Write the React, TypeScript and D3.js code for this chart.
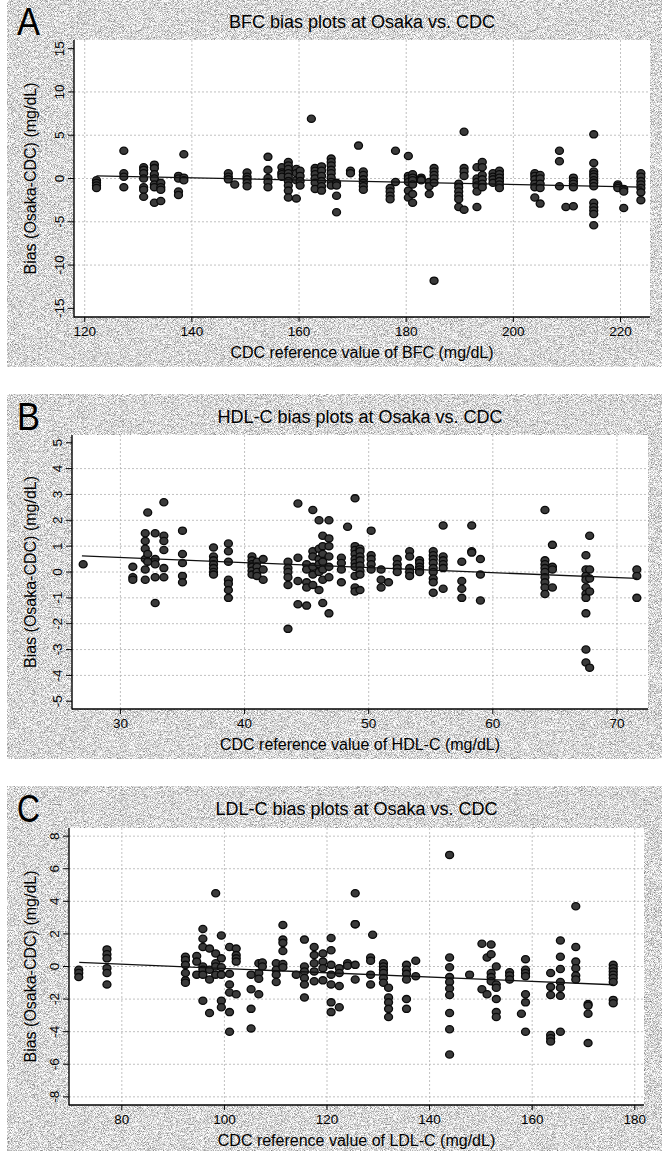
import React from "react";
import * as d3 from "d3";

// ---------- Panel A: BFC ----------
const bfcRef = [122.2, 127.3, 131, 133, 134.2, 137.5, 138.5, 146.8, 148, 150.3, 154.2, 156.8, 158, 159.5, 160.2, 162.3, 163, 164.2, 166, 167, 169.6, 171.1, 172, 177, 178, 180.4, 181.2, 182.8, 184.3, 185.2, 189.8, 190.8, 193.2, 194.2, 196.2, 197.4, 204, 205, 208.6, 209.8, 211.2, 215, 219.5, 220.6, 223.8];
const bfcBias = [
  [-0.2, -0.5, -0.8, -1.1],
  [3.2, 0.6, 0.2, -1.0],
  [1.3, 1.0, 0.6, 0.0, -1.0, -1.3, -2.1],
  [1.6, 1.2, 0.5, 0.0, -0.7, -1.0, -2.8],
  [-0.5, -1.0, -1.3, -2.6],
  [0.3, 0.0, -1.5, -1.9],
  [2.8, 0.1, -0.2],
  [0.6, 0.2, -0.1],
  [-0.7],
  [0.7, 0.2, -0.1, -0.5, -0.9],
  [2.5, 1.0, 0.05, -0.4, -1.0],
  [1.3, 0.7, 0.5, 0.2],
  [1.9, 1.5, 1.1, 0.6, 0.2, -0.3, -0.8, -1.4, -2.2],
  [1.1, 0.6, -0.2, -2.3],
  [0.9, 0.3, -0.3, -0.8],
  [6.9],
  [1.2, 0.9, 0.5, 0.0, -0.5, -1.2],
  [1.4, 0.9, 0.3, -0.3, -0.9, -1.4],
  [2.3, 1.9, 1.5, 1.0, 0.6, 0.1, -0.4, -0.8],
  [-0.5, -0.8, -2.0, -3.9],
  [0.9, 0.6],
  [3.8],
  [0.8, 0.4, -0.1, -0.5, -0.9, -1.3],
  [-1.1, -1.5, -2.0, -2.4],
  [3.2, -0.4],
  [2.6, 0.3, 0.0, -0.4, -1.4, -2.2],
  [0.5, 0.1, -0.2, -0.7, -1.8, -2.8],
  [0.1, -0.1, -0.2],
  [-0.4, -0.9, -1.8],
  [1.2, 0.8, 0.4, 0.0, -0.5, -11.8],
  [-0.6, -1.0, -1.5, -2.0, -2.4, -3.3],
  [5.4, 1.2, 0.8, 0.3, -3.6],
  [1.3, 0.0, -0.4, -0.8, -1.5, -3.3],
  [1.9, 1.3, 0.4, -0.1, -0.6, -1.0],
  [0.6, 0.2, -0.1, -0.5],
  [0.9, 0.5, 0.1, -0.3, -0.7, -1.1],
  [0.6, 0.3, -0.1, -0.6, -1.0, -2.2],
  [0.4, 0.0, -0.6, -1.1, -2.9],
  [3.2, 2.0, -0.9],
  [-3.3],
  [0.1, -0.3, -0.6, -1.0, -3.2],
  [5.1, 1.8, 0.8, 0.5, 0.2, -0.2, -0.5, -0.9, -2.8, -3.3, -3.7, -4.1, -5.4],
  [-0.7, -0.9, -1.1],
  [-1.2, -1.5, -3.4],
  [0.6, 0.2, -0.3, -0.7, -1.1, -1.6, -2.5],
];
const bfcFit = [[122.2, 0.3], [224, -1.0]];
const bfcXTicks = [120, 140, 160, 180, 200, 220];
const bfcYTicks = [-15, -10, -5, 0, 5, 10, 15];

// ---------- Panel B: HDL-C ----------
const hdlRef = [27, 31, 32, 32.2, 32.8, 33.5, 35, 37.5, 38.7, 40.6, 41, 41.5, 43.5, 44.3, 45, 45.5, 46, 46.3, 46.8, 47.8, 48.3, 48.9, 49.3, 50.2, 51, 51.6, 52.3, 53.3, 54.1, 55.2, 56, 57.5, 58.3, 59, 64.2, 64.8, 67.5, 67.8, 71.6];
const hdlBias = [
  [0.3],
  [0.2, -0.2, -0.3],
  [1.5, 1.2, 0.9, 0.5, 0.1, -0.3],
  [2.3, 0.7, 0.4],
  [1.5, 0.5, 0.3, -0.2, -1.2],
  [2.7, 1.4, 1.2, 0.85, 0.15, -0.2],
  [1.6, 0.7, 0.35, -0.15, -0.4],
  [0.95, 0.6, 0.45, 0.3, 0.15, 0.0, -0.1],
  [1.1, 0.8, 0.4, -0.3, -0.45, -0.7, -1.0],
  [0.6, 0.45, 0.3, 0.2, 0.05, -0.1],
  [0.4, 0.2, 0.0, -0.15],
  [0.5, 0.1, -0.3],
  [0.4, 0.15, 0.0, -0.2, -0.5, -2.2],
  [2.65, 0.55, -0.35, -1.25],
  [0.3, 0.1, -0.4, -0.6, -1.3],
  [2.4, 0.8, 0.6, 0.2, -0.1, -0.5],
  [2.0, 0.9, 0.5, 0.3, 0.0, -0.7],
  [1.4, 1.0, 0.7, 0.4, 0.1, -0.3, -1.2],
  [2.0, 1.3, 1.0, 0.6, 0.2, -0.2, -1.6],
  [0.55, 0.35, 0.1, -0.4],
  [1.75],
  [2.85, 1.0, 0.85, 0.7, 0.5, 0.35, 0.2, -0.15, -0.6, -0.75],
  [0.9, 0.8, 0.6, 0.45, 0.25, 0.05, -0.1, -0.7],
  [1.6, 0.65, 0.5, 0.3, 0.1],
  [0.1, -0.3, -0.6],
  [-0.4],
  [0.5, 0.3, 0.15, 0.0],
  [0.8, 0.6, 0.15, 0.0, -0.15],
  [0.45, 0.35, 0.2, 0.1, 0.0],
  [0.8, 0.65, 0.5, 0.35, 0.15, 0.0, -0.25, -0.4, -0.8],
  [1.8, 0.6, 0.45, 0.3, 0.15, -0.65],
  [0.4, -0.35, -0.65, -1.0],
  [1.8, 0.8, 0.75],
  [0.5, -0.1, -1.1],
  [2.4, 0.45, 0.3, 0.15, 0.0, -0.2, -0.4, -0.6, -0.85],
  [1.05, 0.2, 0.1, -0.6],
  [0.65, 0.1, -0.15, -0.3, -0.6, -0.85, -1.0, -1.6, -3.0, -3.5],
  [1.4, 0.1, -0.25, -0.75, -3.7],
  [0.1, -0.15, -1.0],
];
const hdlFit = [[26.9, 0.62], [71.6, -0.25]];
const hdlXTicks = [30, 40, 50, 60, 70];
const hdlYTicks = [-5, -4, -3, -2, -1, 0, 1, 2, 3, 4, 5];

// ---------- Panel C: LDL-C ----------
const ldlRef = [71.6, 77.1, 92.4, 94.6, 95.8, 97.1, 98.3, 99.4, 101, 102.3, 105.2, 106.7, 107.4, 110.1, 111.4, 114, 115.6, 117.5, 119.2, 120.8, 122.4, 124, 125.5, 128.5, 128.9, 131, 132, 135.5, 137.3, 143.9, 147.8, 150.2, 151.2, 152, 153, 155.6, 157.9, 158.7, 163.6, 165.5, 168.5, 170.9, 175.8];
const ldlBias = [
  [-0.2, -0.4, -0.65],
  [1.05, 0.75, 0.5, -0.1, -0.4, -1.1],
  [0.6, 0.4, 0.1, -0.4, -0.85, -1.0],
  [0.65, 0.3, -0.5],
  [2.3, 1.7, 1.2, 0.0, -0.2, -0.5, -2.1],
  [1.1, -0.2, -0.8, -2.85],
  [4.5, 0.8, 0.2, 0.0, -0.5],
  [1.9, 0.5, -0.05, -0.5, -2.1, -2.5],
  [1.2, -0.45, -1.1, -1.6, -2.8, -4.0],
  [1.1, 0.7, 0.5, 0.3, -1.7],
  [-0.5, -1.4, -2.6, -3.8],
  [0.2, -0.4, -0.75, -1.7],
  [0.25, 0.0],
  [0.2, -0.2, -0.5, -0.95],
  [2.55, 1.65, 1.45, 0.95, 0.15, -0.05],
  [-0.5],
  [1.65, 0.0, -0.3, -0.7, -1.1, -1.9],
  [1.2, 0.7, 0.2, -0.3, -0.9],
  [0.8, 0.3, -0.1, -0.85],
  [1.75, 1.0, 0.1, -0.5, -1.1, -2.2, -2.8],
  [-0.1, -0.4, -1.2, -2.5],
  [0.2, 0.05],
  [4.5, 2.6, 2.6, 0.1, -0.8],
  [0.55, 0.35, -0.5, -1.1],
  [1.95],
  [0.2, 0.0, -0.2, -0.4, -0.7, -1.0],
  [-1.3, -1.9, -2.2, -2.6, -3.1],
  [0.1, -0.2, -0.45, -0.8, -2.0, -2.6],
  [0.35, -0.6],
  [6.85, 0.55, -0.05, -0.65, -0.95, -1.35, -1.75, -2.85, -3.85, -5.4],
  [-0.5],
  [1.4, -1.4],
  [0.55, -1.7],
  [1.35, 0.75, -0.4, -0.65, -0.9],
  [0.0, -1.1, -1.3, -2.0, -2.8, -3.1],
  [-0.35, -0.55, -0.8],
  [-2.9],
  [0.45, -0.2, -0.4, -0.6, -1.7, -2.2, -4.0],
  [-0.4, -1.25, -1.75, -4.2, -4.4, -4.6],
  [1.6, 0.6, -0.15, -0.95, -1.3, -1.8, -4.0],
  [3.7, 1.2, 0.3, -0.1, -0.55, -0.8],
  [-2.3, -2.4, -2.9, -4.7],
  [0.1, -0.1, -0.3, -0.5, -0.7, -0.95, -2.05, -2.25],
];
const ldlFit = [[71.7, 0.25], [175.8, -1.12]];
const ldlXTicks = [80, 100, 120, 140, 160, 180];
const ldlYTicks = [-8, -6, -4, -2, 0, 2, 4, 6, 8];

const FONT = "'Liberation Sans', Arial, Helvetica, sans-serif";

type PanelCfg = {
  letter: string; title: string; xLabel: string;
  ref: number[]; bias: number[][]; fit: number[][];
  xTicks: number[]; yTicks: number[];
  xDomain: [number, number]; yDomain: [number, number];
  top: number; bottom: number; plotTop: number; plotBottom: number; left: number; right: number;
  titleY: number; edgeGrid: boolean;
};

function Panel({ p }: { p: PanelCfg }) {
  const x = d3.scaleLinear().domain(p.xDomain).range([p.left, p.right]);
  const y = d3.scaleLinear().domain(p.yDomain).range([p.plotBottom, p.plotTop]);
  const pts: [number, number][] = p.ref.flatMap((r, i) => p.bias[i].map((b) => [r, b] as [number, number]));
  const line = d3.line<number[]>().x((d) => x(d[0])).y((d) => y(d[1]));
  const cx = (p.left + p.right) / 2;
  const cy = (p.plotTop + p.plotBottom) / 2;
  const gridY = p.edgeGrid ? p.yTicks : p.yTicks.slice(1, -1);
  return (
    <g>
      <rect x={7} y={p.top} width={655} height={p.bottom - p.top} filter="url(#grain)" fill="#d6d6d6" />
      <rect x={p.left} y={p.plotTop} width={p.right - p.left} height={p.plotBottom - p.plotTop} fill="#fff" />
      {p.xTicks.map((t) => (
        <line key={"gx" + t} x1={x(t)} x2={x(t)} y1={p.plotTop} y2={p.plotBottom} stroke="#b0b0b0" strokeWidth={0.8} strokeDasharray="2,2" />
      ))}
      {gridY.map((t) => (
        <line key={"gy" + t} x1={p.left} x2={p.right} y1={y(t)} y2={y(t)} stroke="#b0b0b0" strokeWidth={0.8} strokeDasharray="2,2" />
      ))}
      {pts.map((d, i) => (
        <ellipse key={i} cx={x(d[0])} cy={y(d[1])} rx={4} ry={3.6} fill="#3a3a3a" stroke="#0a0a0a" strokeWidth={1.3} />
      ))}
      <path d={line(p.fit) || ""} stroke="#111" strokeWidth={1.3} fill="none" />
      <line x1={p.left} x2={p.left} y1={p.plotTop} y2={p.plotBottom + 0.5} stroke="#000" strokeWidth={1.4} />
      <line x1={p.left} x2={p.right} y1={p.plotBottom} y2={p.plotBottom} stroke="#000" strokeWidth={1.4} />
      {p.yTicks.map((t) => (
        <g key={"ty" + t}>
          <line x1={p.left - 6} x2={p.left} y1={y(t)} y2={y(t)} stroke="#000" strokeWidth={1} />
          <text transform={`translate(${p.left - 10},${y(t)}) rotate(-90)`} textAnchor="middle" fontSize={13.5} fill="#000">{t}</text>
        </g>
      ))}
      {p.xTicks.map((t) => (
        <g key={"tx" + t}>
          <line x1={x(t)} x2={x(t)} y1={p.plotBottom} y2={p.plotBottom + 5} stroke="#000" strokeWidth={1} />
          <text x={x(t)} y={p.plotBottom + 19} textAnchor="middle" fontSize={13.5} fill="#000">{t}</text>
        </g>
      ))}
      <text x={cx} y={p.plotBottom + 41} textAnchor="middle" fontSize={16} fill="#000">{p.xLabel}</text>
      <text transform={`translate(36,${cy}) rotate(-90)`} textAnchor="middle" fontSize={16} fill="#000">Bias (Osaka-CDC) (mg/dL)</text>
      <text x={cx} y={p.titleY} textAnchor="middle" fontSize={18} fill="#000">{p.title}</text>
      <text x={17} y={p.titleY + 7} fontSize={38} fill="#000" textLength={23} lengthAdjust="spacingAndGlyphs">{p.letter}</text>
    </g>
  );
}

export default function App() {
  const panels: PanelCfg[] = [
    {
      letter: "A", title: "BFC bias plots at Osaka vs. CDC", xLabel: "CDC reference value of BFC (mg/dL)",
      ref: bfcRef, bias: bfcBias, fit: bfcFit, xTicks: bfcXTicks, yTicks: bfcYTicks,
      xDomain: [118.0, 225.5], yDomain: [-16, 16],
      top: 0, bottom: 367, plotTop: 40, plotBottom: 317, left: 74, right: 650, titleY: 28, edgeGrid: false,
    },
    {
      letter: "B", title: "HDL-C bias plots at Osaka vs. CDC", xLabel: "CDC reference value of HDL-C (mg/dL)",
      ref: hdlRef, bias: hdlBias, fit: hdlFit, xTicks: hdlXTicks, yTicks: hdlYTicks,
      xDomain: [26.1, 72.5], yDomain: [-5.3, 5.3],
      top: 394, bottom: 759, plotTop: 435, plotBottom: 709, left: 72, right: 648, titleY: 423, edgeGrid: false,
    },
    {
      letter: "C", title: "LDL-C bias plots at Osaka vs. CDC", xLabel: "CDC reference value of LDL-C (mg/dL)",
      ref: ldlRef, bias: ldlBias, fit: ldlFit, xTicks: ldlXTicks, yTicks: ldlYTicks,
      xDomain: [69.7, 181.8], yDomain: [-8.5, 8.5],
      top: 786, bottom: 1151, plotTop: 828, plotBottom: 1105, left: 69, right: 644, titleY: 815, edgeGrid: true,
    },
  ];
  return (
    <svg width={662} height={1151} style={{ position: "absolute", left: 0, top: 0, fontFamily: FONT }}>
      <defs>
        <filter id="grain" x="0" y="0" width="100%" height="100%" colorInterpolationFilters="sRGB">
          <feTurbulence type="fractalNoise" baseFrequency="1.3" numOctaves={1} seed={7} result="n" />
          <feColorMatrix in="n" type="matrix" values="1.3 0 0 0 0.2  1.3 0 0 0 0.2  1.3 0 0 0 0.2  0 0 0 0 1" />
        </filter>
      </defs>
      <rect x={0} y={0} width={662} height={1151} fill="#fff" />
      {panels.map((p) => (
        <Panel key={p.letter} p={p} />
      ))}
    </svg>
  );
}
